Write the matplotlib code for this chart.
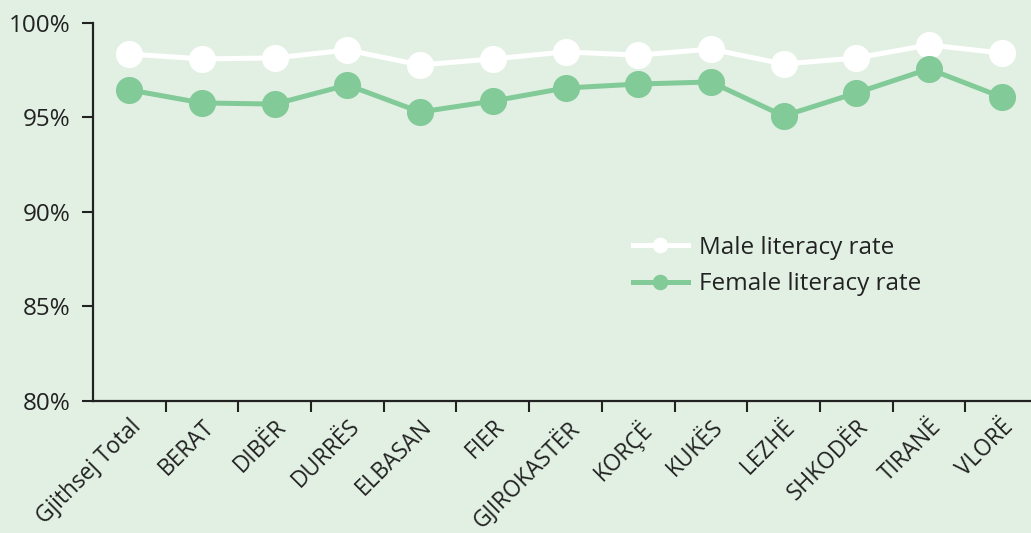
import numpy as np
import matplotlib.pyplot as plt
import matplotlib.transforms as mtransforms
from matplotlib.ticker import FixedLocator

# Literacy rate by region (percent)
regions = ['Gjithsej Total', 'BERAT', 'DIBËR', 'DURRËS', 'ELBASAN', 'FIER',
           'GJIROKASTËR', 'KORÇË', 'KUKËS', 'LEZHË', 'SHKODËR', 'TIRANË', 'VLORË']
male = [98.36, 98.10, 98.15, 98.57, 97.78, 98.10, 98.47, 98.30, 98.62,
        97.83, 98.15, 98.84, 98.41]
female = [96.46, 95.77, 95.71, 96.72, 95.29, 95.87, 96.56, 96.77, 96.88,
          95.08, 96.30, 97.57, 96.08]
yticks = [80, 85, 90, 95, 100]

bg = '#e2f0e3'
green = '#82ca98'
dark = '#222222'

plt.rcParams['font.family'] = ['Open Sans', 'DejaVu Sans']

fig = plt.figure(figsize=(10.31, 5.33), dpi=100, facecolor=bg)
ax = fig.add_axes([93 / 1031, 132 / 533, 945 / 1031, 378 / 533])
ax.set_facecolor(bg)

x = np.arange(len(regions))
ax.plot(x, male, color='white', lw=3.6, marker='o', ms=18.5,
        label='Male literacy rate', clip_on=False, zorder=3)
ax.plot(x, female, color=green, lw=3.6, marker='o', ms=18.5,
        label='Female literacy rate', clip_on=False, zorder=3)

ax.set_xlim(-0.5, len(regions) - 0.5)
ax.set_ylim(80, 100)

ax.set_yticks(yticks)
ax.set_yticklabels([f'{v}%' for v in yticks])
ax.set_xticks(x)
ax.set_xticklabels(regions, rotation=45, ha='right', rotation_mode='anchor')
# nudge rotated labels a little to the left
shift = mtransforms.ScaledTranslation(-4 / 100, 0, fig.dpi_scale_trans)
for lab in ax.get_xticklabels():
    lab.set_transform(lab.get_transform() + shift)
ax.xaxis.set_minor_locator(FixedLocator(x[:-1] + 0.5))
ax.tick_params(axis='x', which='major', length=0, pad=10, labelsize=16.3, colors=dark)
ax.tick_params(axis='x', which='minor', length=8, width=1.5, color=dark, direction='out')
ax.tick_params(axis='y', length=8, width=1.5, color=dark, labelsize=17.5,
               labelcolor=dark, pad=8)

for s in ['top', 'right']:
    ax.spines[s].set_visible(False)
for s in ['left', 'bottom']:
    ax.spines[s].set_color(dark)
    ax.spines[s].set_linewidth(1.6)

leg = fig.legend(*ax.get_legend_handles_labels(), loc='upper left',
                 bbox_to_anchor=(633 / 1031, (533 - 236) / 533), frameon=False,
                 fontsize=17.5, markerscale=0.55, handlelength=2.25,
                 handletextpad=0.45, labelspacing=0.5, borderpad=0,
                 borderaxespad=0)
for t in leg.get_texts():
    t.set_color(dark)

fig.savefig('out.png', dpi=100, facecolor=bg)
